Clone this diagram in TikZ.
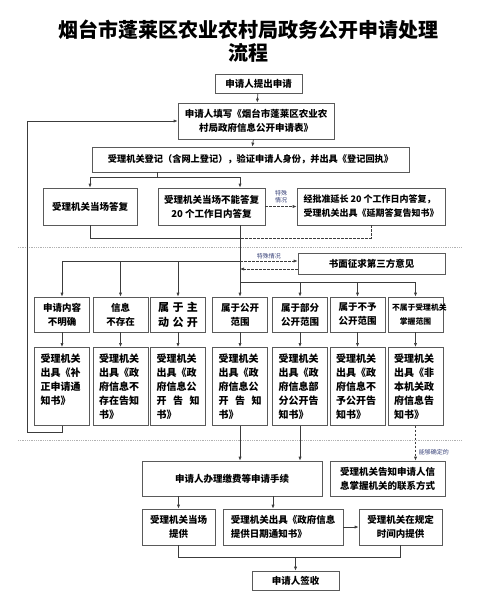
\documentclass[tikz,border=0pt]{standalone}
\usepackage{fontspec}
\newfontfamily\cjk{Noto Sans CJK SC}
\usetikzlibrary{arrows.meta}
\definecolor{linegray}{RGB}{60,60,60}
\definecolor{boxgray}{RGB}{90,90,90}
\definecolor{notecol}{RGB}{55,65,120}
\tikzset{
  box/.style={draw=boxgray, line width=0.7pt, inner sep=0pt, align=center,
    font=\cjk\bfseries\fontsize{9.5}{14}\selectfont},
  mbox/.style={box, minimum width=55pt, minimum height=35pt, text width=47pt},
  bbox/.style={box, anchor=north, minimum height=78pt, text width=43pt,
    inner xsep=6pt, align=left, font=\cjk\bfseries\fontsize{10}{14}\selectfont},
  conn/.style={draw=linegray, line width=0.7pt},
  arr/.style={conn, -{Latex[length=4pt,width=3.2pt]}},
  dline/.style={conn, dash pattern=on 2.5pt off 1.5pt},
  darr/.style={arr, dash pattern=on 2.5pt off 1.5pt},
  divider/.style={draw=black!30, line width=0.6pt, dash pattern=on 1pt off 0.8pt},
  note/.style={font=\cjk\fontsize{6}{7}\selectfont, text=notecol, inner sep=1pt}
}
\begin{document}
\begin{tikzpicture}[x=1pt,y=-1pt]
\useasboundingbox (0,0) rectangle (500,599);
\node[align=center, font=\cjk\bfseries\fontsize{20}{23}\selectfont] (title) at (248,41)
  {烟台市蓬莱区农业农村局政务公开申请处理\\流程};
\node[box, minimum width=87pt, minimum height=19pt] (n1) at (258.5,83.5) {申请人提出申请};
\node[box, minimum width=156pt, minimum height=36pt] (n2) at (256,121)
  {申请人填写《烟台市蓬莱区农业农\\村局政府信息公开申请表》};
\node[box, minimum width=317pt, minimum height=25pt, font=\cjk\bfseries\fontsize{9.2}{14}\selectfont] (n3) at (250.5,159.5)
  {受理机关登记（含网上登记），验证申请人身份，并出具《登记回执》};
\node[box, minimum width=94pt, minimum height=37pt] (n4a) at (90,206.5) {受理机关当场答复};
\node[box, minimum width=107pt, minimum height=37pt] (n4b) at (211.5,206.5) {受理机关当场不能答复\\20 个工作日内答复};
\node[box, minimum width=148pt, minimum height=37pt, align=left, font=\cjk\bfseries\fontsize{9}{14}\selectfont] (n4c) at (371,206.5)
  {经批准延长 20 个工作日内答复，\\受理机关出具《延期答复告知书》};
\node[box, minimum width=147pt, minimum height=21pt] (n5) at (371.5,263.5) {书面征求第三方意见};
\node[mbox] (m1) at (62,314.5) {申请内容\\不明确};
\node[mbox] (m2) at (120.5,314.5) {信息\\不存在};
\node[mbox, font=\cjk\bfseries\fontsize{11}{15}\selectfont] (m3) at (178,314.5)
  {\makebox[40pt]{属\hfill 于\hfill 主}\\\makebox[40pt]{动\hfill 公\hfill 开}};
\node[mbox] (m4) at (240,314.5) {属于公开\\范围};
\node[mbox] (m5) at (300,314.5) {属于部分\\公开范围};
\node[mbox] (m6) at (357.5,314.5) {属于不予\\公开范围};
\node[mbox, font=\cjk\bfseries\fontsize{7.8}{14}\selectfont] (m7) at (415.5,314.5) {不属于受理机关\\掌握范围};
\node[bbox] (b1) at (62,347) {受理机关\\出具《补\\正申请通\\知书》\\~};
\node[bbox] (b2) at (120.5,347) {受理机关\\出具《政\\府信息不\\存在告知\\书》};
\node[bbox] (b3) at (178,347) {受理机关\\出具《政\\府信息公\\开\hfill 告\hfill 知\\书》};
\node[bbox] (b4) at (240,347) {受理机关\\出具《政\\府信息公\\开\hfill 告\hfill 知\\书》};
\node[bbox] (b5) at (300,347) {受理机关\\出具《政\\府信息部\\分公开告\\知书》};
\node[bbox] (b6) at (357.5,347) {受理机关\\出具《政\\府信息不\\予公开告\\知书》};
\node[bbox] (b7) at (415.5,347) {受理机关\\出具《非\\本机关政\\府信息告\\知书》};
\node[box, minimum width=180pt, minimum height=35pt] (n6) at (232,478.5) {申请人办理缴费等申请手续};
\node[box, minimum width=115pt, minimum height=35pt] (n7) at (387.5,478.5) {受理机关告知申请人信\\息掌握机关的联系方式};
\node[box, minimum width=73pt, minimum height=36pt] (c1) at (178.5,527) {受理机关当场\\提供};
\node[box, minimum width=120pt, minimum height=36pt, align=left] (c2) at (283,527) {受理机关出具《政府信息\\提供日期通知书》};
\node[box, minimum width=83pt, minimum height=36pt] (c3) at (400.5,527) {受理机关在规定\\时间内提供};
\node[box, minimum width=87pt, minimum height=19pt] (n8) at (295.5,580.5) {申请人签收};
\coordinate (j1) at (157,177);
\coordinate (ta) at (240,177);
\coordinate (tb) at (240,238);
\coordinate (tc) at (240,261);
\coordinate (td) at (240,282);
\coordinate (te) at (240,269);
\coordinate (lp) at (27,432);
\coordinate (k2) at (273,496);
\coordinate (jb) at (295,557);
\draw[divider] (18,247) -- (461,247);
\draw[divider] (18,440) -- (462,440);
\draw[arr] (n1) -- (n2);
\draw[arr] (n2) -- (n3);
\draw[conn] (n3.south -| j1) -- (j1);
\draw[conn] (j1 -| n4a) -- (ta);
\draw[arr] (j1 -| n4a) -- (n4a.north);
\draw[arr] (ta) -- (ta |- n4b.north);
\draw[darr] (n4b) -- (n4c) node[note, midway, above, align=center, yshift=2pt] {特殊\\情况};
\draw[conn] (n4a.south) -- (n4a.south |- tb) -- (tb);
\draw[dline] (n4c.south) -- (n4c.south |- tb) -- (tb);
\draw[conn] (ta |- n4b.south) -- (td);
\draw[darr] (tc) -- (tc -| n5.west) node[note, midway, above, yshift=1pt] {特殊情况};
\draw[darr] (te -| n5.west) -- (te);
\draw[conn] (tc) -- (tc -| m1);
\draw[conn] (td) -- (td -| m7);
\foreach \m in {m1,m2,m3}
  \draw[arr] (tc -| \m) -- (\m.north);
\foreach \m in {m4,m5,m6,m7}
  \draw[arr] (td -| \m) -- (\m.north);
\foreach \i in {1,...,7}
  \draw[arr] (m\i) -- (b\i);
\draw[arr] (b1.south) -- (b1.south |- lp) -- (lp) -- (lp |- n2.west) -- (n2.west);
\draw[arr] (b4.south) -- (b4.south |- n6.north);
\draw[arr] (b5.south) -- (b5.south |- n6.north);
\draw[darr] (b7.south) -- (b7.south |- n7.north) node[note, pos=0.75, right, xshift=2pt] {能够确定的};
\draw[arr] (n6.south -| c1) -- (c1.north);
\draw[arr] (k2) -- (k2 |- c2.north);
\draw[arr] (c2) -- (c3);
\draw[conn] (c1.south) -- (c1.south |- jb) -- (jb -| c3) -- (c3.south);
\draw[arr] (jb -| n8) -- (n8.north);
\end{tikzpicture}
\end{document}
